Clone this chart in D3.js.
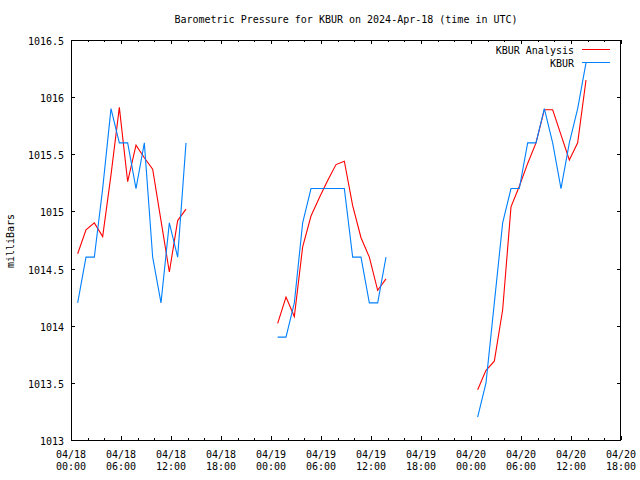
<!DOCTYPE html>
<html><head><meta charset="utf-8">
<script src="https://cdn.jsdelivr.net/npm/d3@7"></script>
<style>
body{margin:0;background:#fff}
svg{display:block}
text{font-family:"DejaVu Sans Mono","Liberation Mono",monospace;font-size:10px;fill:#000}
</style>
</head><body><svg id="c" width="640" height="480"></svg>
<script>
// Observation times, hours after 2024-04-18 00:00 UTC
const obsHours = [
  0.8, 1.8, 2.8, 3.8, 4.8, 5.8, 6.8, 7.8, 8.8, 9.8, 10.8, 11.8, 12.8, 13.8,
  24.8, 25.8, 26.8, 27.8, 28.8, 29.8, 30.8, 31.8, 32.8, 33.8, 34.8, 35.8, 36.8, 37.8,
  48.8, 49.8, 50.8, 51.8, 52.8, 53.8, 54.8, 55.8, 56.8, 57.8, 58.8, 59.8, 60.8, 61.8
];
// KBUR observed pressure (mb)
const kburValues = [
  1014.2, 1014.6, 1014.6, 1015.2, 1015.9, 1015.6, 1015.6, 1015.2, 1015.6, 1014.6, 1014.2, 1014.9, 1014.6, 1015.6,
  1013.9, 1013.9, 1014.2, 1014.9, 1015.2, 1015.2, 1015.2, 1015.2, 1015.2, 1014.6, 1014.6, 1014.2, 1014.2, 1014.6,
  1013.2, 1013.5, 1014.2, 1014.9, 1015.2, 1015.2, 1015.6, 1015.6, 1015.9, 1015.6, 1015.2, 1015.6, 1015.9, 1016.3
];
// KBUR Analysis pressure (mb)
const analysisValues = [
  1014.63, 1014.84, 1014.90, 1014.78, 1015.32, 1015.91, 1015.26, 1015.58, 1015.47, 1015.37, 1014.92, 1014.47, 1014.92, 1015.02,
  1014.02, 1014.25, 1014.08, 1014.69, 1014.96, 1015.12, 1015.27, 1015.41, 1015.44, 1015.05, 1014.77, 1014.60, 1014.31, 1014.41,
  1013.44, 1013.61, 1013.69, 1014.14, 1015.04, 1015.22, 1015.42, 1015.60, 1015.89, 1015.89, 1015.67, 1015.45, 1015.60, 1016.15
];
const seriesNames = ["KBUR Analysis", "KBUR"];
const seriesColors = ["#ff0000", "#0080ff"];
const yTickValues = [1013, 1013.5, 1014, 1014.5, 1015, 1015.5, 1016, 1016.5];
const titleText = "Barometric Pressure for KBUR on 2024-Apr-18 (time in UTC)";
const yLabelText = "milliBars";

const t0 = Date.UTC(2024, 3, 18, 0, 0);
const t1 = Date.UTC(2024, 3, 20, 18, 0);
const toDate = h => new Date(t0 + h * 3600000);

const L = 71, R = 621, T = 40, B = 440;
const x = d3.scaleUtc().domain([new Date(t0), new Date(t1)]).range([L, R]);
const y = d3.scaleLinear().domain([1013, 1016.5]).range([B, T]);

const svg = d3.select("#c");
svg.append("rect").attr("width", 640).attr("height", 480).attr("fill", "#fff");

// title
svg.append("text").attr("x", (L + R) / 2).attr("y", 23).attr("text-anchor", "middle").text(titleText);

// y label
svg.append("text").attr("transform", "translate(14,241) rotate(-90)")
  .attr("text-anchor", "middle").text(yLabelText);

const g = svg.append("g").attr("shape-rendering", "crispEdges");

// y ticks (left + mirrored right)
yTickValues.forEach(v => {
  const yy = Math.round(y(v)) + 0.5;
  g.append("line").attr("x1", L).attr("x2", L + 4).attr("y1", yy).attr("y2", yy).attr("stroke", "#000");
  g.append("line").attr("x1", R - 4).attr("x2", R).attr("y1", yy).attr("y2", yy).attr("stroke", "#000");
  svg.append("text").attr("x", 64).attr("y", y(v) + 5).attr("text-anchor", "end").text(String(v));
});

// x ticks
const majors = x.ticks(d3.utcHour.every(6));
const minors = x.ticks(d3.utcHour.every(2));
const fmtD = d3.utcFormat("%m/%d"), fmtH = d3.utcFormat("%H:%M");
minors.forEach(d => {
  const xx = Math.round(x(d)) + 0.5;
  const isMajor = d.getUTCHours() % 6 === 0;
  const len = isMajor ? 4 : 2;
  g.append("line").attr("x1", xx).attr("x2", xx).attr("y1", B).attr("y2", B - len).attr("stroke", "#000");
  g.append("line").attr("x1", xx).attr("x2", xx).attr("y1", T).attr("y2", T + len).attr("stroke", "#000");
});
majors.forEach(d => {
  const t = svg.append("text").attr("x", x(d)).attr("y", 458).attr("text-anchor", "middle");
  t.append("tspan").attr("x", x(d)).attr("y", 458).text(fmtD(d));
  t.append("tspan").attr("x", x(d)).attr("y", 470).text(fmtH(d));
});

// frame
g.append("rect").attr("x", L + 0.5).attr("y", T + 0.5).attr("width", R - L - 1).attr("height", B - T)
  .attr("fill", "none").attr("stroke", "#000");

// series lines, broken at data gaps
function segments(vals) {
  const segs = []; let cur = [];
  obsHours.forEach((h, i) => {
    if (cur.length && h - obsHours[i - 1] > 2) { segs.push(cur); cur = []; }
    cur.push({ t: toDate(h), v: vals[i] });
  });
  if (cur.length) segs.push(cur);
  return segs;
}
const line = d3.line().x(d => x(d.t)).y(d => y(d.v));
const allSeries = [analysisValues, kburValues];
allSeries.forEach((vals, k) => {
  segments(vals).forEach(seg => {
    svg.append("path").attr("d", line(seg)).attr("fill", "none")
      .attr("stroke", seriesColors[k]).attr("stroke-width", 1.1);
  });
});

// legend
seriesNames.forEach((name, k) => {
  const ly = 49.5 + k * 13;
  svg.append("text").attr("x", 574).attr("y", ly + 4).attr("text-anchor", "end").text(name);
  svg.append("line").attr("x1", 582).attr("x2", 610).attr("y1", ly).attr("y2", ly)
    .attr("stroke", seriesColors[k]).attr("stroke-width", 1.1).attr("shape-rendering", "crispEdges");
});
</script>
</body></html>
